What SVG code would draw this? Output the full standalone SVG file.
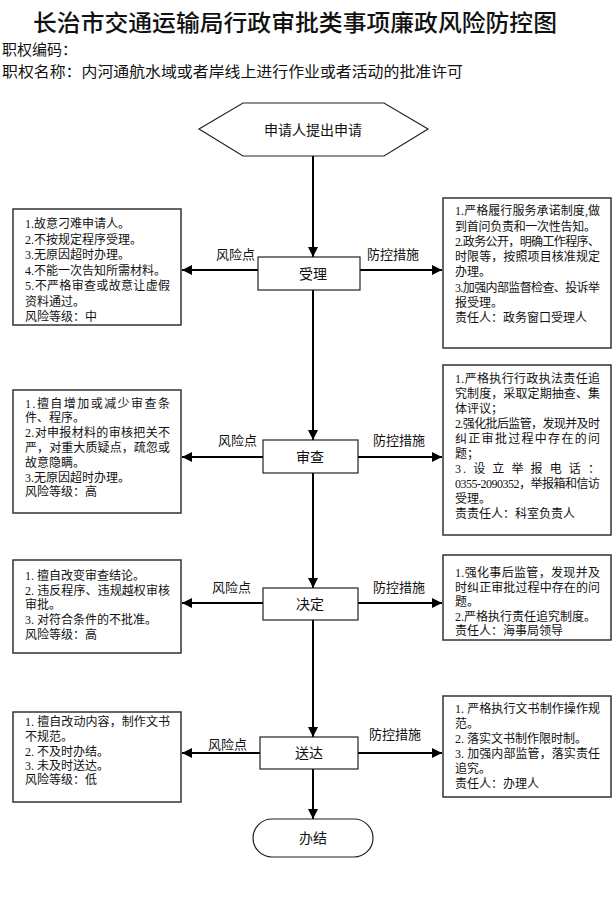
<svg xmlns="http://www.w3.org/2000/svg" width="612" height="910" viewBox="0 0 612 910">
<defs>
<marker id="ah" viewBox="0 0 10 10" refX="10" refY="5" markerWidth="10" markerHeight="10" markerUnits="userSpaceOnUse" orient="auto">
<path d="M0,0 L10,5 L0,10 z" fill="#000"/>
</marker>
<style>
.box{fill:#fff;stroke:#333;stroke-width:1.5}
.node{fill:#fff;stroke:#222;stroke-width:1.2}
.ln{stroke:#000;stroke-width:2;fill:none}
.t{font-family:"Liberation Serif","Noto Sans CJK SC",serif;font-size:12px;fill:#111}
.lb{font-family:"Noto Sans CJK SC",sans-serif;font-size:13px;fill:#111}
.nt{font-family:"Noto Sans CJK SC",sans-serif;font-size:14px;fill:#111;text-anchor:middle}
.hd{font-family:"Liberation Serif","Noto Sans CJK SC",serif;font-size:15px;fill:#111}
</style>
</defs>
<rect width="612" height="910" fill="#fff"/>
<text x="33" y="31" font-family="Noto Sans CJK SC, sans-serif" font-size="23" font-weight="500" fill="#111" textLength="524" lengthAdjust="spacingAndGlyphs">长治市交通运输局行政审批类事项廉政风险防控图</text>
<text class="hd" x="2" y="55">职权编码：</text>
<text class="hd" x="2" y="77" textLength="461" lengthAdjust="spacingAndGlyphs">职权名称：内河通航水域或者岸线上进行作业或者活动的批准许可</text>

<g id="connectors">
<line class="ln" x1="313" y1="156" x2="313" y2="257" marker-end="url(#ah)"/>
<line class="ln" x1="313" y1="290" x2="313" y2="440" marker-end="url(#ah)"/>
<line class="ln" x1="313" y1="473" x2="313" y2="588" marker-end="url(#ah)"/>
<line class="ln" x1="313" y1="620" x2="313" y2="737" marker-end="url(#ah)"/>
<line class="ln" x1="313" y1="769" x2="313" y2="819" marker-end="url(#ah)"/>
<line class="ln" x1="258" y1="270" x2="182" y2="270" marker-end="url(#ah)"/>
<line class="ln" x1="360" y1="270" x2="442" y2="270" marker-end="url(#ah)"/>
<line class="ln" x1="263" y1="457" x2="182" y2="457" marker-end="url(#ah)"/>
<line class="ln" x1="358" y1="457" x2="442" y2="457" marker-end="url(#ah)"/>
<line class="ln" x1="263" y1="603" x2="182" y2="603" marker-end="url(#ah)"/>
<line class="ln" x1="358" y1="603" x2="442" y2="603" marker-end="url(#ah)"/>
<line class="ln" x1="260" y1="753" x2="182" y2="753" marker-end="url(#ah)"/>
<line class="ln" x1="358" y1="753" x2="442" y2="753" marker-end="url(#ah)"/>
<text class="lb" x="216" y="259">风险点</text>
<text class="lb" x="367" y="259">防控措施</text>
<text class="lb" x="218" y="445">风险点</text>
<text class="lb" x="373" y="445">防控措施</text>
<text class="lb" x="212" y="592">风险点</text>
<text class="lb" x="373" y="592">防控措施</text>
<text class="lb" x="208" y="749">风险点</text>
<text class="lb" x="369" y="739">防控措施</text>
</g>

<g id="start">
<polygon class="node" points="199,129 243,103 384,103 428,129 384,156 243,156"/>
<text class="nt" x="313" y="135" font-size="13">申请人提出申请</text>
</g>
<g id="shouli">
<rect class="node" x="258" y="257" width="102" height="33"/>
<text class="nt" x="313" y="279">受理</text>
</g>
<g id="shencha">
<rect class="node" x="263" y="440" width="95" height="33"/>
<text class="nt" x="310" y="462">审查</text>
</g>
<g id="jueding">
<rect class="node" x="263" y="588" width="95" height="32"/>
<text class="nt" x="310" y="609">决定</text>
</g>
<g id="songda">
<rect class="node" x="260" y="737" width="98" height="32"/>
<text class="nt" x="309" y="758">送达</text>
</g>
<g id="end">
<rect class="node" x="253" y="819" width="120" height="38" rx="19"/>
<text class="nt" x="313" y="843">办结</text>
</g>

<g id="risk1">
<rect class="box" x="13" y="209" width="168" height="116"/>
<text class="t" x="25" y="228">1.故意刁难申请人。</text>
<text class="t" x="25" y="244">2.不按规定程序受理。</text>
<text class="t" x="25" y="259">3.无原因超时办理。</text>
<text class="t" x="25" y="275">4.不能一次告知所需材料。</text>
<text class="t" x="25" y="290" textLength="145" lengthAdjust="spacing">5.不严格审查或故意让虚假</text>
<text class="t" x="25" y="306">资料通过。</text>
<text class="t" x="25" y="321">风险等级：中</text>
</g>
<g id="measure1">
<rect class="box" x="443" y="198" width="168" height="150"/>
<text class="t" x="455" y="215" textLength="145" lengthAdjust="spacing">1.严格履行服务承诺制度,做</text>
<text class="t" x="455" y="231" textLength="141" lengthAdjust="spacing">到首问负责和一次性告知。</text>
<text class="t" x="455" y="246" textLength="145" lengthAdjust="spacing">2.政务公开，明确工作程序、</text>
<text class="t" x="455" y="261" textLength="145" lengthAdjust="spacing">时限等，按照项目核准规定</text>
<text class="t" x="455" y="276">办理。</text>
<text class="t" x="455" y="292" textLength="145" lengthAdjust="spacing">3.加强内部监督检查、投诉举</text>
<text class="t" x="455" y="307">报受理。</text>
<text class="t" x="455" y="322">责任人：政务窗口受理人</text>
</g>

<g id="risk2">
<rect class="box" x="13" y="390" width="168" height="123"/>
<text class="t" x="25" y="408" textLength="145" lengthAdjust="spacing">1.擅自增加或减少审查条</text>
<text class="t" x="25" y="422">件、程序。</text>
<text class="t" x="25" y="437" textLength="145" lengthAdjust="spacing">2.对申报材料的审核把关不</text>
<text class="t" x="25" y="452" textLength="145" lengthAdjust="spacing">严，对重大质疑点，疏忽或</text>
<text class="t" x="25" y="467">故意隐瞒。</text>
<text class="t" x="25" y="482">3.无原因超时办理。</text>
<text class="t" x="25" y="496">风险等级：高</text>
</g>
<g id="measure2">
<rect class="box" x="443" y="365" width="168" height="170"/>
<text class="t" x="455" y="383" textLength="145" lengthAdjust="spacing">1.严格执行行政执法责任追</text>
<text class="t" x="455" y="398" textLength="145" lengthAdjust="spacing">究制度，采取定期抽查、集</text>
<text class="t" x="455" y="413">体评议；</text>
<text class="t" x="455" y="428" textLength="145" lengthAdjust="spacing">2.强化批后监管，发现并及时</text>
<text class="t" x="455" y="443" textLength="145" lengthAdjust="spacing">纠正审批过程中存在的问</text>
<text class="t" x="455" y="458">题；</text>
<text class="t" x="455" y="473" textLength="145" lengthAdjust="spacing">3. 设 立 举 报 电 话 ：</text>
<text class="t" x="455" y="488" textLength="145" lengthAdjust="spacing">0355-2090352，举报箱和信访</text>
<text class="t" x="455" y="503">受理。</text>
<text class="t" x="455" y="518">责责任人：科室负责人</text>
</g>

<g id="risk3">
<rect class="box" x="13" y="560" width="168" height="93"/>
<text class="t" x="25" y="580">1. 擅自改变审查结论。</text>
<text class="t" x="25" y="595" textLength="145" lengthAdjust="spacing">2. 违反程序、违规越权审核</text>
<text class="t" x="25" y="609">审批。</text>
<text class="t" x="25" y="624">3. 对符合条件的不批准。</text>
<text class="t" x="25" y="639">风险等级：高</text>
</g>
<g id="measure3">
<rect class="box" x="443" y="555" width="168" height="85"/>
<text class="t" x="455" y="577" textLength="145" lengthAdjust="spacing">1.强化事后监管，发现并及</text>
<text class="t" x="455" y="592" textLength="145" lengthAdjust="spacing">时纠正审批过程中存在的问</text>
<text class="t" x="455" y="606">题。</text>
<text class="t" x="455" y="621">2.严格执行责任追究制度。</text>
<text class="t" x="455" y="635">责任人：海事局领导</text>
</g>

<g id="risk4">
<rect class="box" x="13" y="712" width="168" height="90"/>
<text class="t" x="25" y="726" textLength="145" lengthAdjust="spacing">1. 擅自改动内容，制作文书</text>
<text class="t" x="25" y="741">不规范。</text>
<text class="t" x="25" y="756">2. 不及时办结。</text>
<text class="t" x="25" y="770">3. 未及时送达。</text>
<text class="t" x="25" y="784">风险等级：低</text>
</g>
<g id="measure4">
<rect class="box" x="443" y="696" width="168" height="101"/>
<text class="t" x="455" y="713" textLength="145" lengthAdjust="spacing">1. 严格执行文书制作操作规</text>
<text class="t" x="455" y="728">范。</text>
<text class="t" x="455" y="743">2. 落实文书制作限时制。</text>
<text class="t" x="455" y="758" textLength="145" lengthAdjust="spacing">3. 加强内部监管，落实责任</text>
<text class="t" x="455" y="773">追究。</text>
<text class="t" x="455" y="788">责任人：办理人</text>
</g>
</svg>
